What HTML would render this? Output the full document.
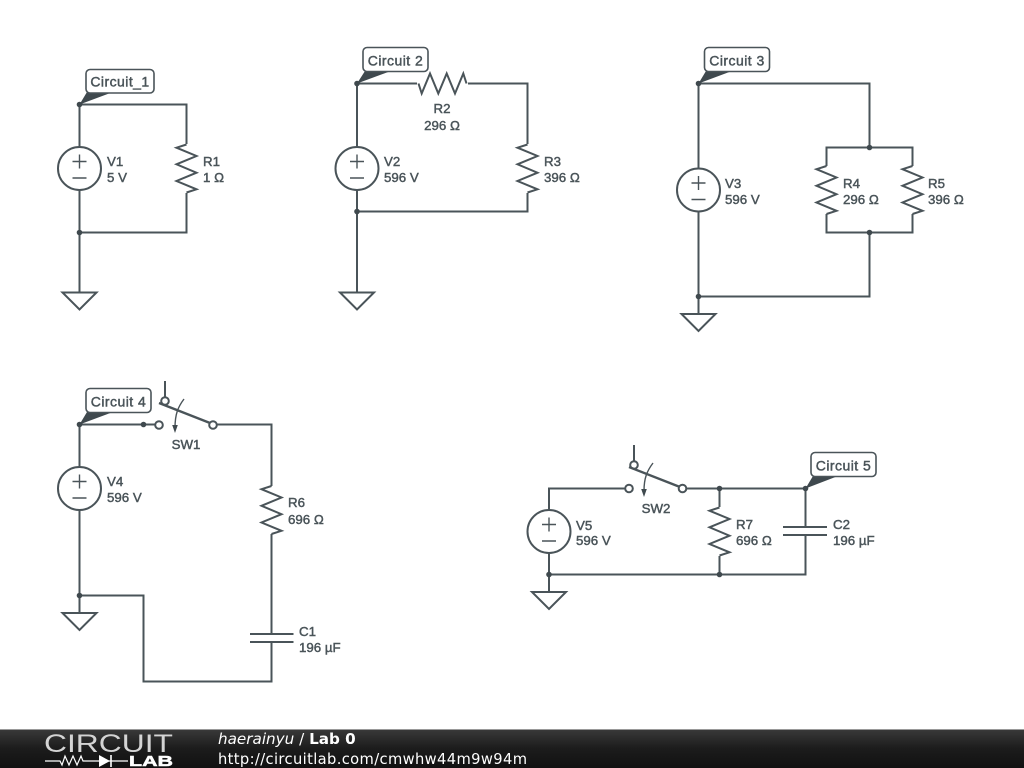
<!DOCTYPE html>
<html><head><meta charset="utf-8"><style>
html,body{margin:0;padding:0;background:#fff;width:1024px;height:768px;overflow:hidden}
svg{display:block}
.w{fill:none;stroke:#4a5459;stroke-width:2}
.wf{fill:#fff;stroke:#4a5459;stroke-width:2}
.t{fill:none;stroke:#4a5459;stroke-width:1.4}
.d{fill:#3f494e}
text{font-family:"Liberation Sans",sans-serif;font-size:13.3px;fill:#4a5459;stroke:#4a5459;stroke-width:.45}
.l{font-size:14px;letter-spacing:.45px}
.f{font-family:"DejaVu Sans",sans-serif;font-size:15.2px;fill:#fff;stroke:none}
</style></head><body>
<svg width="1024" height="768" viewBox="0 0 1024 768" xmlns="http://www.w3.org/2000/svg">
<defs>
<linearGradient id="bar" x1="0" y1="0" x2="0" y2="1"><stop offset="0" stop-color="#3a3a3a"/><stop offset=".5" stop-color="#1c1c1c"/><stop offset="1" stop-color="#111"/></linearGradient>
<g id="src"><circle r="21.5" class="wf"/><path class="t" d="M-7-7H7M0-14V0M-7 9.5H7"/></g>
<path id="rv" class="w" d="M0-24-10-20.8 10-12.5-10-4.2 10 4.2-10 12.5 10 20.8 0 24"/>
<path id="gnd" class="wf" d="M-17 0H17L0 17Z"/>
<path id="rh" class="w" d="M-24 0-20.8 10-12.5-10-4.2 10 4.2-10 12.5 10 20.8-10 24 0"/>
</defs>

<!-- Circuit 1 -->
<path class="w" d="M79.5 292.5V104.5H186.5V232.5H79.5"/>
<use href="#src" x="79.5" y="168.5"/>
<rect x="176" y="144" width="21" height="49" fill="#fff"/><use href="#rv" x="186.5" y="168.5"/>
<use href="#gnd" x="79.5" y="292.5"/>
<circle class="d" cx="79.5" cy="104.5" r="2.8"/><circle class="d" cx="79.5" cy="232.5" r="2.8"/>
<path class="d" d="M79.5 104.5 87 92H113Z"/>
<rect x="86" y="69.5" width="68" height="23.5" rx="4" fill="#fff" stroke="#4a5459" stroke-width="1.6"/>
<text class="l" x="120" y="86.5" text-anchor="middle">Circuit_1</text>
<text x="107" y="166">V1</text><text x="107" y="182">5 V</text>
<text x="203" y="166">R1</text><text x="203" y="182">1 Ω</text>

<!-- Circuit 2 -->
<path class="w" d="M357 292.5V83.5H527.5V211.5H357"/>
<use href="#src" x="357" y="168.5"/>
<rect x="417" y="72" width="51" height="23" fill="#fff"/><use href="#rh" x="442.5" y="83.5"/>
<rect x="517" y="144" width="21" height="49" fill="#fff"/><use href="#rv" x="527.5" y="168.5"/>
<use href="#gnd" x="357" y="292.5"/>
<circle class="d" cx="357" cy="83.5" r="2.8"/><circle class="d" cx="357" cy="211.5" r="2.8"/>
<path class="d" d="M357 83.5 365 71H391Z"/>
<rect x="363" y="47.5" width="65" height="24" rx="4" fill="#fff" stroke="#4a5459" stroke-width="1.6"/>
<text class="l" x="395.5" y="65.5" text-anchor="middle">Circuit 2</text>
<text x="442" y="113" text-anchor="middle">R2</text><text x="442" y="130" text-anchor="middle">296 Ω</text>
<text x="384" y="166">V2</text><text x="384" y="182">596 V</text>
<text x="544" y="166">R3</text><text x="544" y="182">396 Ω</text>

<!-- Circuit 3 -->
<path class="w" d="M698.5 314V83.5H869.5V147.5M826.5 147.5H912.5V232.5H826.5ZM869.5 232.5V296.5H698.5"/>
<use href="#src" x="698.5" y="190"/>
<rect x="816" y="166" width="21" height="48" fill="#fff"/><use href="#rv" x="826.5" y="190"/>
<rect x="902" y="166" width="21" height="48" fill="#fff"/><use href="#rv" x="912.5" y="190"/>
<use href="#gnd" x="698.5" y="314"/>
<circle class="d" cx="698.5" cy="83.5" r="2.8"/><circle class="d" cx="869.5" cy="147.5" r="2.8"/><circle class="d" cx="869.5" cy="232.5" r="2.8"/><circle class="d" cx="698.5" cy="296.5" r="2.8"/>
<path class="d" d="M698.5 83.5 706 71H732Z"/>
<rect x="704.5" y="47.5" width="65" height="24" rx="4" fill="#fff" stroke="#4a5459" stroke-width="1.6"/>
<text class="l" x="737" y="65.5" text-anchor="middle">Circuit 3</text>
<text x="725" y="188">V3</text><text x="725" y="204">596 V</text>
<text x="843" y="188">R4</text><text x="843" y="204">296 Ω</text>
<text x="928" y="188">R5</text><text x="928" y="204">396 Ω</text>

<!-- Circuit 4 -->
<path class="w" d="M79.5 613V424.5H155M217 424.5H271.5V634M271.5 642V681.5H143.5V595.5H79.5"/>
<use href="#src" x="79.5" y="488.5"/>
<rect x="261" y="486" width="21" height="48" fill="#fff"/><use href="#rv" x="271.5" y="510"/>
<path class="w" d="M250 634H293.5M250 642H293.5"/>
<use href="#gnd" x="79.5" y="613"/>
<circle class="d" cx="79.5" cy="424.5" r="2.8"/><circle class="d" cx="143.5" cy="424.5" r="2.8"/><circle class="d" cx="79.5" cy="595.5" r="2.8"/>
<path class="w" d="M165 381V397"/>
<circle cx="159" cy="425" r="3.8" class="wf"/><circle cx="165" cy="401" r="3.8" class="wf"/>
<path class="w" style="stroke-width:2.4" d="M159 403 210 423"/><circle cx="213" cy="425" r="3.8" class="wf"/>
<path class="t" d="M184 399C178 407 175 414 175 428"/><path class="d" d="M172.2 425H177.8L175 433Z"/>
<path class="d" d="M79.5 424.5 87 412H113Z"/>
<rect x="86" y="388.5" width="65" height="24" rx="4" fill="#fff" stroke="#4a5459" stroke-width="1.6"/>
<text class="l" x="118.5" y="406.5" text-anchor="middle">Circuit 4</text>
<text x="186" y="449" text-anchor="middle">SW1</text>
<text x="107" y="486">V4</text><text x="107" y="502">596 V</text>
<text x="288" y="507">R6</text><text x="288" y="524">696 Ω</text>
<text x="299" y="636">C1</text><text x="299" y="652">196 µF</text>

<!-- Circuit 5 -->
<path class="w" d="M549 592V488.5H625M687 488.5H805.5V527M805.5 535V574.5H549M719.5 488.5V574.5"/>
<use href="#src" x="549" y="531.5"/>
<rect x="709" y="507" width="21" height="49" fill="#fff"/><use href="#rv" x="719.5" y="531.5"/>
<path class="w" d="M783 527H827M783 535H827"/>
<use href="#gnd" x="549" y="592"/>
<circle class="d" cx="719.5" cy="488.5" r="2.8"/><circle class="d" cx="805.5" cy="488.5" r="2.8"/><circle class="d" cx="549" cy="574.5" r="2.8"/><circle class="d" cx="719.5" cy="574.5" r="2.8"/>
<path class="w" d="M634 445V461"/>
<circle cx="629" cy="488.5" r="3.8" class="wf"/><circle cx="634" cy="465" r="3.8" class="wf"/>
<path class="w" style="stroke-width:2.4" d="M629 467 680 487"/><circle cx="682.5" cy="488.5" r="3.8" class="wf"/>
<path class="t" d="M653 463C647 471 644 478 644 491"/><path class="d" d="M641.2 489H646.8L644 497Z"/>
<path class="d" d="M805.5 488.5 813 476H838Z"/>
<rect x="811" y="452.5" width="65" height="24" rx="4" fill="#fff" stroke="#4a5459" stroke-width="1.6"/>
<text class="l" x="843.5" y="470.5" text-anchor="middle">Circuit 5</text>
<text x="656" y="513" text-anchor="middle">SW2</text>
<text x="576" y="530">V5</text><text x="576" y="545">596 V</text>
<text x="736" y="529">R7</text><text x="736" y="545">696 Ω</text>
<text x="833" y="529">C2</text><text x="833" y="545">196 µF</text>

<!-- Footer -->
<rect x="0" y="729" width="1024" height="39" fill="url(#bar)"/>
<rect x="0" y="729" width="1024" height="1" fill="#999"/>
<text x="44" y="752" textLength="129" lengthAdjust="spacingAndGlyphs" style="font-size:25px;fill:#d4d4d4;stroke:none">CIRCUIT</text>
<path fill="none" stroke="#fff" stroke-width="1.2" d="M45 761H60L62 765 65 756 69 765 73 756 77 765 81 756 83 761H128"/>
<path fill="#fff" d="M99 755 110 761 99 767Z"/><path stroke="#fff" stroke-width="1.6" d="M111 755V767"/>
<text x="129" y="766" textLength="44" lengthAdjust="spacingAndGlyphs" style="font-size:15px;font-weight:bold;fill:#fff;stroke:#fff;stroke-width:.5">LAB</text>
<text class="f" x="218" y="744"><tspan font-style="italic">haerainyu</tspan> / <tspan font-weight="bold">Lab 0</tspan></text>
<text class="f" x="218" y="764" textLength="309" lengthAdjust="spacing" style="font-size:14.7px">http://circuitlab.com/cmwhw44m9w94m</text>
</svg>
</body></html>
